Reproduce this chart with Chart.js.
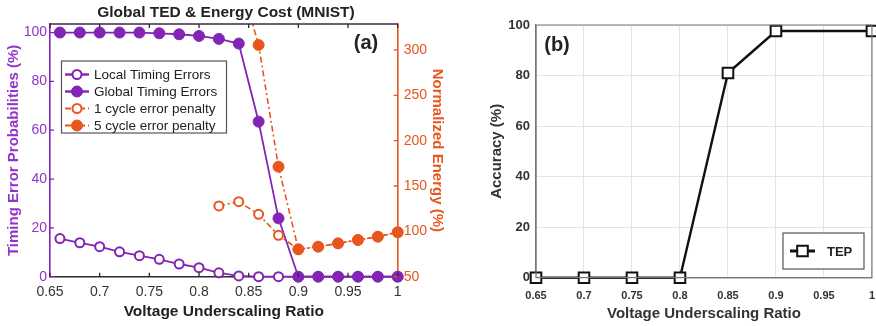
<!DOCTYPE html>
<html>
<head>
<meta charset="utf-8">
<script src="https://cdn.jsdelivr.net/npm/chart.js@4.4.1/dist/chart.umd.min.js"></script>
<style>
  html, body { margin: 0; padding: 0; background: #fff; }
  #wrap { position: relative; width: 876px; height: 326px; overflow: hidden; }
  #boxA { position: absolute; left: 0; top: 0; width: 452px; height: 326px; }
  #boxB { position: absolute; left: 440px; top: 0; width: 447px; height: 326px; }
</style>
</head>
<body>
<div id="wrap">
  <div id="boxB"><canvas id="chartB"></canvas></div>
  <div id="boxA"><canvas id="chartA"></canvas></div>
</div>
<script>
// --- dados (a): TED e energia ---
const voltsA = [0.66, 0.68, 0.70, 0.72, 0.74, 0.76, 0.78, 0.80, 0.82, 0.84, 0.86, 0.88, 0.90, 0.92, 0.94, 0.96, 0.98, 1.00];
const localErrors = [15.6, 13.9, 12.3, 10.2, 8.6, 7.1, 5.2, 3.7, 1.6, 0.3, 0, 0, 0, 0, 0, 0, 0, 0];
const globalErrors = [100, 100, 100, 100, 100, 99.7, 99.3, 98.6, 97.4, 95.5, 63.5, 23.9, 0, 0, 0, 0, 0, 0];

const voltsPen1 = [0.82, 0.84, 0.86, 0.88, 0.90, 0.92, 0.94, 0.96, 0.98, 1.00];
const penalty1 = [128, 132.7, 118.8, 95.7, 80.2, 83.1, 86.8, 90.5, 94.1, 99];
const voltsPen5 = [0.84, 0.86, 0.88, 0.90, 0.92, 0.94, 0.96, 0.98, 1.00];
const penalty5 = [382, 305.5, 171.3, 80.2, 83.1, 86.8, 90.5, 94.1, 99];

const errTicks = [0, 20, 40, 60, 80, 100];
const energyTicks = [50, 100, 150, 200, 250, 300];

// --- dados (b): acurácia TEP ---
const voltsB = [0.65, 0.70, 0.75, 0.80, 0.85, 0.90, 1.00];
const accuracyTEP = [0, 0, 0, 0, 81, 97.6, 97.6];
const accTicks = [0, 20, 40, 60, 80, 100];
const voltTicks = [0.65, 0.7, 0.75, 0.8, 0.85, 0.9, 0.95, 1];

const PURPLE = '#8224b4';
const PURPLE_TXT = '#9333c9';
const ORANGE = '#e8561e';
const FONT = "'Liberation Sans', Arial, sans-serif";

const pts = (xs, ys) => xs.map((x, i) => ({ x: x, y: ys[i] }));
const fmt = v => String(Number(v.toFixed(2)));
const fixTicks = list => (scale => { scale.ticks = list.map(v => ({ value: v })); });

// --- plugins: moldura, ticks para dentro, legenda interna, rótulo (a)/(b) ---
const framePlugin = {
  id: 'frame',
  afterDraw(chart, args, opts) {
    const { ctx, chartArea: a } = chart;
    ctx.save();
    ctx.strokeStyle = opts.color;
    ctx.lineWidth = opts.width;
    ctx.beginPath();
    if (opts.full) {
      ctx.rect(a.left, a.top, a.right - a.left, a.bottom - a.top);
    } else {
      ctx.moveTo(a.left, a.top);
      ctx.lineTo(a.right, a.top);
    }
    ctx.stroke();
    ctx.restore();
  }
};

const inTicksPlugin = {
  id: 'inTicks',
  afterDraw(chart, args, opts) {
    if (!opts.enabled) return;
    const { ctx, chartArea: a } = chart;
    const len = opts.length;
    ctx.save();
    ctx.lineWidth = 1.3;
    Object.values(chart.scales).forEach(s => {
      ctx.strokeStyle = s.options.border.color;
      ctx.beginPath();
      s.ticks.forEach(t => {
        const p = s.getPixelForValue(t.value);
        if (s.axis === 'x') {
          ctx.moveTo(p, a.bottom); ctx.lineTo(p, a.bottom - len);
          ctx.moveTo(p, a.top); ctx.lineTo(p, a.top + len);
        } else if (s.position === 'left') {
          ctx.moveTo(a.left, p); ctx.lineTo(a.left + len, p);
        } else {
          ctx.moveTo(a.right, p); ctx.lineTo(a.right - len, p);
        }
      });
      ctx.stroke();
    });
    ctx.restore();
  }
};

function drawMarker(ctx, ds, x, y) {
  ctx.save();
  ctx.setLineDash([]);
  ctx.lineWidth = ds.pointBorderWidth;
  ctx.strokeStyle = ds.pointBorderColor;
  ctx.fillStyle = ds.pointBackgroundColor;
  const r = ds.pointRadius;
  ctx.beginPath();
  if (ds.pointStyle === 'rect') {
    const h = r * Math.SQRT1_2;
    ctx.rect(x - h, y - h, 2 * h, 2 * h);
  } else {
    ctx.arc(x, y, r, 0, Math.PI * 2);
  }
  ctx.fill();
  ctx.stroke();
  ctx.restore();
}

const boxLegendPlugin = {
  id: 'boxLegend',
  afterDraw(chart, args, o) {
    const { ctx } = chart;
    ctx.save();
    ctx.fillStyle = '#fff';
    ctx.fillRect(o.x, o.y, o.w, o.h);
    ctx.strokeStyle = '#555';
    ctx.lineWidth = 1.2;
    ctx.strokeRect(o.x, o.y, o.w, o.h);
    ctx.font = o.font;
    ctx.textBaseline = 'middle';
    chart.data.datasets.forEach((ds, i) => {
      const cy = o.y0 + i * o.rowH;
      ctx.save();
      ctx.strokeStyle = ds.borderColor;
      ctx.lineWidth = ds.borderWidth + 0.6;
      ctx.setLineDash(ds.borderDash || []);
      ctx.beginPath();
      ctx.moveTo(o.lx0, cy);
      ctx.lineTo(o.lx1, cy);
      ctx.stroke();
      ctx.restore();
      drawMarker(ctx, ds, (o.lx0 + o.lx1) / 2, cy);
      ctx.fillStyle = '#222';
      ctx.fillText(ds.label, o.tx, cy + 1);
    });
    ctx.restore();
  }
};

const panelLabelPlugin = {
  id: 'panelLabel',
  afterDraw(chart, args, o) {
    const { ctx } = chart;
    ctx.save();
    ctx.font = 'bold 20px ' + FONT;
    ctx.fillStyle = '#222';
    ctx.textAlign = 'center';
    ctx.textBaseline = 'middle';
    ctx.fillText(o.text, o.x, o.y);
    ctx.restore();
  }
};

Chart.register(framePlugin, inTicksPlugin, boxLegendPlugin, panelLabelPlugin);
Chart.defaults.font.family = FONT;
Chart.defaults.animation = false;

const clipTop = { left: 10, right: 10, top: 0, bottom: 10 };

const xFit = h => (s => { s.height = h; });

// --- gráfico (a) ---
new Chart(document.getElementById('chartA'), {
  type: 'line',
  data: {
    datasets: [
      {
        label: 'Local Timing Errors',
        data: pts(voltsA, localErrors),
        yAxisID: 'y',
        borderColor: PURPLE, borderWidth: 1.8,
        pointStyle: 'circle', pointRadius: 4.5, pointBorderWidth: 2,
        pointBackgroundColor: '#fff', pointBorderColor: PURPLE,
        order: 4, clip: clipTop
      },
      {
        label: 'Global Timing Errors',
        data: pts(voltsA, globalErrors),
        yAxisID: 'y',
        borderColor: PURPLE, borderWidth: 1.8,
        pointStyle: 'circle', pointRadius: 5.5, pointBorderWidth: 1,
        pointBackgroundColor: PURPLE, pointBorderColor: PURPLE,
        order: 3, clip: clipTop
      },
      {
        label: '1 cycle error penalty',
        data: pts(voltsPen1, penalty1),
        yAxisID: 'y2',
        borderColor: ORANGE, borderWidth: 1.6, borderDash: [6, 3, 2, 3],
        pointStyle: 'circle', pointRadius: 4.5, pointBorderWidth: 2,
        pointBackgroundColor: '#fff', pointBorderColor: ORANGE,
        order: 2, clip: clipTop
      },
      {
        label: '5 cycle error penalty',
        data: pts(voltsPen5, penalty5),
        yAxisID: 'y2',
        borderColor: ORANGE, borderWidth: 1.6, borderDash: [6, 3, 2, 3],
        pointStyle: 'circle', pointRadius: 5.5, pointBorderWidth: 1,
        pointBackgroundColor: ORANGE, pointBorderColor: ORANGE,
        order: 1, clip: clipTop
      }
    ]
  },
  options: {
    responsive: true,
    maintainAspectRatio: false,
    layout: { padding: 0 },
    plugins: {
      legend: { display: false },
      tooltip: { enabled: false },
      title: {
        display: true,
        text: 'Global TED & Energy Cost (MNIST)',
        color: '#222',
        font: { size: 15.5, weight: 'bold' },
        padding: { top: 3.4, bottom: 2 }
      },
      frame: { color: '#3a2a44', width: 1.4, full: false },
      inTicks: { enabled: true, length: 4 },
      boxLegend: {
        x: 61.5, y: 61, w: 165, h: 72, y0: 74.5, rowH: 17,
        lx0: 65, lx1: 89, tx: 94, font: '13.5px ' + FONT
      },
      panelLabel: { text: '(a)', x: 366, y: 43 }
    },
    scales: {
      x: {
        type: 'linear', min: 0.65, max: 1,
        afterBuildTicks: fixTicks(voltTicks),
        afterFit: xFit(49.3),
        grid: { display: false, drawTicks: false },
        border: { color: '#2a2a2a', width: 1.4 },
        ticks: { color: '#333', font: { size: 14 }, padding: 7, callback: fmt, maxRotation: 0, autoSkip: false },
        title: { display: true, text: 'Voltage Underscaling Ratio', color: '#222', font: { size: 15.5, weight: 'bold' }, padding: { top: 0, bottom: 5 } }
      },
      y: {
        type: 'linear', position: 'left', min: 0, max: 103.5,
        afterBuildTicks: fixTicks(errTicks),
        afterFit: s => { s.width = 50; },
        grid: { display: false, drawTicks: false },
        border: { color: PURPLE, width: 1.6 },
        ticks: { color: PURPLE_TXT, font: { size: 14 }, padding: 3 },
        title: { display: true, text: 'Timing Error Probabilities (%)', color: PURPLE_TXT, font: { size: 15, weight: 'bold' }, padding: { top: 5, bottom: 0 } }
      },
      y2: {
        type: 'linear', position: 'right', min: 50, max: 328.6,
        afterBuildTicks: fixTicks(energyTicks),
        afterFit: s => { s.width = 54.3; },
        grid: { display: false, drawTicks: false },
        border: { color: ORANGE, width: 1.6 },
        ticks: { color: ORANGE, font: { size: 14 }, padding: 6 },
        title: { display: true, text: 'Normalized Energy (%)', color: ORANGE, font: { size: 15, weight: 'bold' }, padding: { top: 6, bottom: 0 } }
      }
    }
  }
});

// --- gráfico (b) ---
new Chart(document.getElementById('chartB'), {
  type: 'line',
  data: {
    datasets: [
      {
        label: 'TEP',
        data: pts(voltsB, accuracyTEP),
        borderColor: '#111', borderWidth: 2.4,
        pointStyle: 'rect', pointRadius: 7.5, pointBorderWidth: 2,
        pointBackgroundColor: '#fff', pointBorderColor: '#111',
        clip: false
      }
    ]
  },
  options: {
    responsive: true,
    maintainAspectRatio: false,
    layout: { padding: { top: 25, right: 0, left: 0, bottom: 0 } },
    plugins: {
      legend: { display: false },
      tooltip: { enabled: false },
      frame: { color: '#777', width: 1.2, full: true },
      inTicks: { enabled: false },
      boxLegend: {
        x: 343, y: 233, w: 81, h: 36, y0: 251, rowH: 17,
        lx0: 350, lx1: 375, tx: 387, font: 'bold 13px ' + FONT
      },
      panelLabel: { text: '(b)', x: 117, y: 45 }
    },
    scales: {
      x: {
        type: 'linear', min: 0.65, max: 1,
        afterBuildTicks: fixTicks(voltTicks),
        afterFit: xFit(48.3),
        grid: { color: '#e4e4e4', drawTicks: false },
        border: { color: '#777', width: 1.2 },
        ticks: { color: '#333', font: { size: 11, weight: 'bold' }, padding: 12, callback: fmt, maxRotation: 0, autoSkip: false },
        title: { display: true, text: 'Voltage Underscaling Ratio', color: '#333', font: { size: 15, weight: 'bold' }, padding: { top: 0, bottom: 2.7 } }
      },
      y: {
        type: 'linear', min: 0, max: 100,
        afterBuildTicks: fixTicks(accTicks),
        afterFit: s => { s.width = 96; },
        grid: { color: '#e4e4e4', drawTicks: false },
        border: { color: '#777', width: 1.2 },
        ticks: { color: '#333', font: { size: 13, weight: 'bold' }, padding: 6 },
        title: { display: true, text: 'Accuracy (%)', color: '#333', font: { size: 15, weight: 'bold' }, padding: { top: 48, bottom: 0 } }
      }
    }
  }
});
</script>
</body>
</html>
